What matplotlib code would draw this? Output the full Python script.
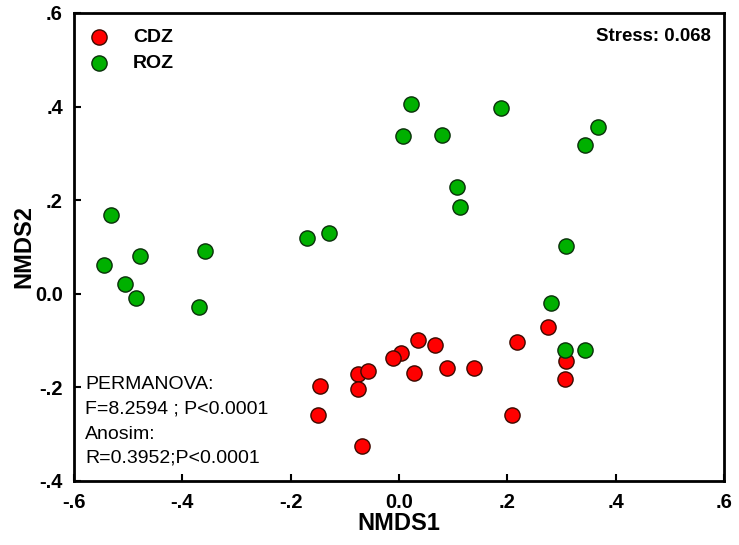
import matplotlib
matplotlib.use("Agg")
import matplotlib.pyplot as plt

plt.rcParams['font.family'] = ['Liberation Sans', 'DejaVu Sans']

cdz_x = [-0.145, -0.150, -0.076, -0.076, -0.058, -0.068, 0.035, 0.066, 0.003, -0.012,
         0.028, 0.089, 0.138, 0.217, 0.275, 0.309, 0.307, 0.209]
cdz_y = [-0.198, -0.258, -0.171, -0.203, -0.164, -0.326, -0.098, -0.110, -0.127, -0.137,
         -0.170, -0.158, -0.158, -0.102, -0.071, -0.144, -0.182, -0.258]

roz_x = [-0.531, -0.170, -0.130, -0.545, -0.479, -0.359, -0.506, -0.486, -0.370,
         0.023, 0.007, 0.079, 0.188, 0.368, 0.344, 0.107, 0.112, 0.308,
         0.281, 0.307, 0.344]
roz_y = [0.168, 0.120, 0.129, 0.062, 0.080, 0.091, 0.021, -0.009, -0.029,
         0.406, 0.338, 0.340, 0.397, 0.356, 0.319, 0.228, 0.185, 0.102,
         -0.020, -0.121, -0.121]

xticks = [-0.6, -0.4, -0.2, 0.0, 0.2, 0.4, 0.6]
xtick_labels = ['-.6', '-.4', '-.2', '0.0', '.2', '.4', '.6']
yticks = [-0.4, -0.2, 0.0, 0.2, 0.4, 0.6]
ytick_labels = ['-.4', '-.2', '0.0', '.2', '.4', '.6']

fig = plt.figure(figsize=(7.39, 5.45), dpi=100)
ax = fig.add_axes([74 / 739, 1 - 481 / 545, 650 / 739, 468 / 545])

ax.scatter(cdz_x, cdz_y, s=120, c='#ff0000', edgecolors='#3a0a00', linewidths=1.0,
           zorder=3, label='CDZ')
ax.scatter(roz_x, roz_y, s=120, c='#00b000', edgecolors='#0a300a', linewidths=1.0,
           zorder=3, label='ROZ')

ax.set_xlim(-0.6, 0.6)
ax.set_ylim(-0.4, 0.6)
ax.set_xticks(xticks)
ax.set_xticklabels(xtick_labels)
ax.set_yticks(yticks)
ax.set_yticklabels(ytick_labels)
ax.tick_params(direction='in', length=5, width=1.5, labelsize=14.5)
ax.tick_params(axis='x', pad=9)
ax.tick_params(axis='y', pad=8)
for lab in ax.get_xticklabels() + ax.get_yticklabels():
    lab.set_fontweight('bold')
for sp in ax.spines.values():
    sp.set_linewidth(2)

ax.set_xlabel('NMDS1', fontsize=17, fontweight='bold', labelpad=0)
ax.set_ylabel('NMDS2', fontsize=17, fontweight='bold', labelpad=0)

leg = ax.legend(loc='upper left', bbox_to_anchor=(0.0028, 0.983), frameon=False,
                handlelength=1.6, handletextpad=0.95, borderaxespad=0.0,
                labelspacing=0.4, prop={'weight': 'bold', 'size': 14})

ax.text(0.98, 0.953, 'Stress: 0.068', transform=ax.transAxes, ha='right',
        va='center_baseline', fontsize=13.4, fontweight='bold')

ann_lines = ['PERMANOVA:', 'F=8.2594 ; P<0.0001', 'Anosim:', 'R=0.3952;P<0.0001']
ann_y = [0.2115, 0.158, 0.1047, 0.0534]
for txt, yy in zip(ann_lines, ann_y):
    ax.text(0.017, yy, txt, transform=ax.transAxes, ha='left', va='center_baseline',
            fontsize=14, fontweight='normal')

fig.savefig('out.png', dpi=100)
